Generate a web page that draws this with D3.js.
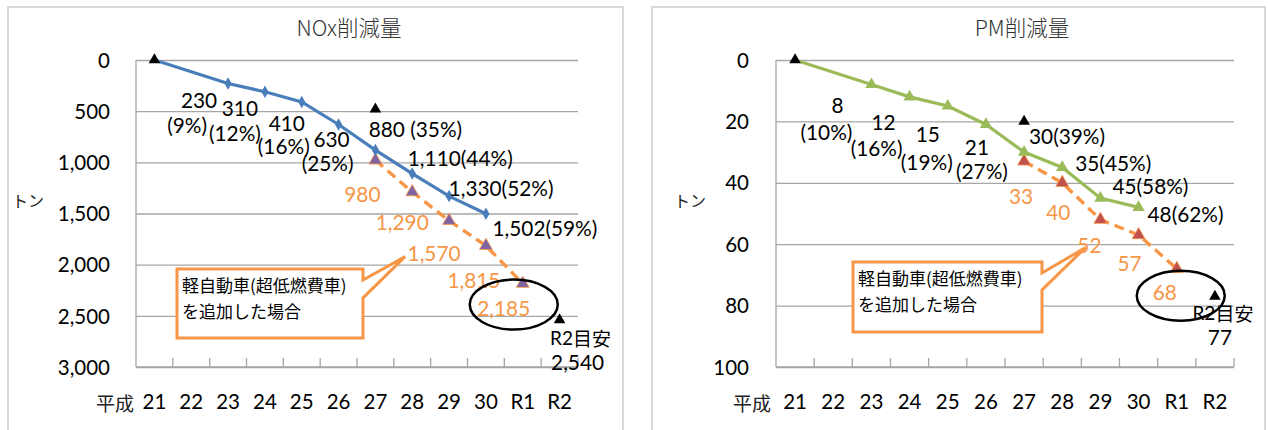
<!DOCTYPE html>
<html><head><meta charset="utf-8">
<script src="https://cdn.jsdelivr.net/npm/d3@7/dist/d3.min.js"></script>
<style>
html,body{margin:0;padding:0;background:#fff;}
svg{display:block;}
</style></head>
<body><svg id="c" width="1268" height="430"></svg>
<script>
// ---------- DATA ----------
const categories = ["21","22","23","24","25","26","27","28","29","30","R1","R2"];
const noxActual  = [0,null,230,310,410,630,880,1110,1330,1502,null,null];
const noxPct     = [null,null,9,12,16,25,35,44,52,59,null,null];
const noxWithKei = [null,null,null,null,null,null,980,1290,1570,1815,2185,null];
const noxTarget  = [0,null,null,null,null,null,480,null,null,null,null,2540];
const noxTicks   = [0,500,1000,1500,2000,2500,3000];

const pmActual   = [0,null,8,12,15,21,30,35,45,48,null,null];
const pmPct      = [null,null,10,16,19,27,39,45,58,62,null,null];
const pmWithKei  = [null,null,null,null,null,null,33,40,52,57,68,null];
const pmTarget   = [0,null,null,null,null,null,20,null,null,null,null,77];
const pmTicks    = [0,20,40,60,80,100];

const titles = ["NOx削減量","PM削減量"];
const unitLabel = "トン";
const eraLabel = "平成";
const calloutLines = ["軽自動車(超低燃費車)","を追加した場合"];
const targetLabel = "R2目安";

// ---------- LAYOUT ----------
const svg = d3.select("#c");
const LAT = "Lato, 'Noto Sans', sans-serif";
const JP = "'Noto Sans CJK JP', sans-serif";
const LBL = 20.8;

const layouts = [
  {
    panel:[8,7,615,440], plot:[136,578], yTop:60, yBot:367,
    title:{x:349,y:26}, unit:{x:28,y:200}, era:{x:115},
    tickPad:26, lineColor:"#4a7ebb", marker:d3.symbolDiamond, markerSize:45,
    keiFill:"#8064a2",
    actOff:[null,null,[[-29,16],[-41,41]],[[-25,16],[-30,41]],[[-15,21],[-18,44]],[[-7,14],[-11,38]],
            [[40,-22]],[[48,-16]],[[52,-9]],[[59,14]],null,null],
    sep:[null,null,null,null,null,null," ","","","",null,null],
    keiOff:[null,null,null,null,null,null,[-13,33],[-10,29],[-15,32],[-12,34],[-19,24],null],
    tgtOff:[[21,17],[18,42]],
    box:[177,269,363,338], wedge:[280,298], tipIdx:8, tipOff:[-44,36],
    ell:{idx:10, dx:-9, dy:21, rx:44, ry:25}
  },
  {
    panel:[652,7,613,440], plot:[776,1234], yTop:60, yBot:367,
    title:{x:1022,y:26}, unit:{x:690,y:200}, era:{x:752},
    tickPad:27, lineColor:"#9bbb59", marker:d3.symbolTriangle, markerSize:66,
    keiFill:"#c0504d",
    actOff:[null,null,[[-34,20],[-45,47]],[[-26,25],[-33,51]],[[-20,27],[-21,55]],[[-9,22],[-4,46]],
            [[43,-17]],[[51,-5]],[[50,-13]],[[47,6]],null,null],
    sep:[null,null,null,null,null,null,"","","","",null,null],
    keiOff:[null,null,null,null,null,null,[-3,34],[-4,29],[-11,25],[-9,28],[-12,23],null],
    tgtOff:[[8,16],[5,40]],
    box:[853,262,1042,332], wedge:[273,290], tipIdx:8, tipOff:[-15,28],
    ell:{idx:10, dx:4, dy:27, rx:44, ry:25}
  }
];

const datasets = [
  {actual:noxActual,pct:noxPct,kei:noxWithKei,target:noxTarget,ticks:noxTicks},
  {actual:pmActual,pct:pmPct,kei:pmWithKei,target:pmTarget,ticks:pmTicks}
];

const fmt = d3.format(",");

datasets.forEach((ds,k)=>{
  const L = layouts[k];
  const g = svg.append("g");
  g.append("rect").attr("x",L.panel[0]).attr("y",L.panel[1]).attr("width",L.panel[2]).attr("height",L.panel[3])
    .attr("fill","#fff").attr("stroke","#d9d9d9").attr("stroke-width",2);

  const x = d3.scaleBand().domain(categories).range(L.plot).padding(0);
  const y = d3.scaleLinear().domain([0,d3.max(ds.ticks)]).range([L.yTop,L.yBot]);
  const cx = i => x(categories[i]) + x.bandwidth()/2;

  const ya = g.append("g").attr("transform",`translate(${L.plot[0]},0)`)
    .call(d3.axisLeft(y).tickValues(ds.ticks).tickFormat(fmt).tickSize(-(L.plot[1]-L.plot[0])).tickPadding(L.tickPad));
  ya.select(".domain").remove();
  ya.selectAll(".tick line").attr("stroke","#a6a6a6").attr("stroke-width",1.3);
  ya.selectAll(".tick text").attr("font-family",LAT).attr("font-size",20.5).attr("fill","#000").attr("dy","0.35em");
  g.append("line").attr("x1",L.plot[0]).attr("x2",L.plot[0]).attr("y1",L.yTop).attr("y2",L.yBot)
    .attr("stroke","#a6a6a6").attr("stroke-width",1.3);
  g.append("line").attr("x1",L.plot[0]).attr("x2",L.plot[1]).attr("y1",L.yBot).attr("y2",L.yBot)
    .attr("stroke","#a6a6a6").attr("stroke-width",1.5);
  const bounds = categories.map(c=>x(c)).concat([L.plot[1]]).slice(1);
  g.selectAll(".bt").data(bounds).enter().append("line")
    .attr("x1",d=>d).attr("x2",d=>d).attr("y1",L.yBot-9).attr("y2",L.yBot)
    .attr("stroke","#a6a6a6").attr("stroke-width",1.3);
  const xa = g.append("g").attr("transform",`translate(0,${L.yBot})`)
    .call(d3.axisBottom(x).tickSize(0).tickPadding(27));
  xa.select(".domain").remove();
  xa.selectAll(".tick text").attr("font-family",LAT).attr("font-size",20.5).attr("fill","#000");
  g.append("text").attr("x",L.era.x).attr("y",L.yBot+35).attr("text-anchor","middle")
    .attr("dominant-baseline","central").attr("font-family",JP).attr("font-size",19).attr("fill","#222").text(eraLabel);

  g.append("text").attr("x",L.title.x).attr("y",L.title.y).attr("text-anchor","middle").attr("dominant-baseline","central")
    .attr("font-family",JP).attr("font-size",21.5).attr("fill","#333").attr("font-weight",300).text(titles[k]);
  g.append("text").attr("x",L.unit.x).attr("y",L.unit.y).attr("text-anchor","middle").attr("dominant-baseline","central")
    .attr("font-family",JP).attr("font-size",16).attr("fill","#222").text(unitLabel);

  const keiPts = ds.kei.map((v,i)=>({v,i})).filter(d=>d.v!=null);
  const line = d3.line().x(d=>cx(d.i)).y(d=>y(d.v));
  g.append("path").attr("d",line(keiPts)).attr("fill","none").attr("stroke","#f79646")
    .attr("stroke-width",3.4).attr("stroke-dasharray","10,6");
  g.selectAll(".km").data(keiPts).enter().append("path")
    .attr("d",d3.symbol(d3.symbolTriangle,72)())
    .attr("transform",d=>`translate(${cx(d.i)},${y(d.v)})`)
    .attr("fill",L.keiFill).attr("stroke","#f79646").attr("stroke-width",0.8);

  const actPts = ds.actual.map((v,i)=>({v,i})).filter(d=>d.v!=null);
  g.append("path").attr("d",line(actPts)).attr("fill","none").attr("stroke",L.lineColor).attr("stroke-width",3.2);
  g.selectAll(".am").data(actPts.filter(d=>d.i>0)).enter().append("path")
    .attr("d",d3.symbol(L.marker,L.markerSize)())
    .attr("transform",d=>`translate(${cx(d.i)},${y(d.v)})`)
    .attr("fill",L.lineColor);

  const tgtPts = ds.target.map((v,i)=>({v,i})).filter(d=>d.v!=null);
  g.selectAll(".tm").data(tgtPts).enter().append("path")
    .attr("d",d3.symbol(d3.symbolTriangle,58)())
    .attr("transform",d=>`translate(${cx(d.i)},${y(d.v)})`)
    .attr("fill","#000");

  ds.actual.forEach((v,i)=>{
    const off = L.actOff[i]; if(!off || v==null) return;
    let lines;
    if(off.length===2) lines=[fmt(v),`(${ds.pct[i]}%)`];
    else lines=[`${fmt(v)}${L.sep[i]}(${ds.pct[i]}%)`];
    lines.forEach((t,j)=>{
      g.append("text").attr("x",cx(i)+off[j][0]).attr("y",y(v)+off[j][1])
        .attr("text-anchor","middle").attr("dominant-baseline","central")
        .attr("font-family",LAT).attr("font-size",LBL).attr("fill","#000").text(t);
    });
  });
  ds.kei.forEach((v,i)=>{
    const off=L.keiOff[i]; if(!off||v==null) return;
    g.append("text").attr("x",cx(i)+off[0]).attr("y",y(v)+off[1])
      .attr("text-anchor","middle").attr("dominant-baseline","central")
      .attr("font-family",LAT).attr("font-size",LBL).attr("fill","#f79646").text(fmt(v));
  });
  const ti = ds.target.length-1, tv = ds.target[ti];
  g.append("text").attr("x",cx(ti)+L.tgtOff[0][0]).attr("y",y(tv)+L.tgtOff[0][1])
    .attr("text-anchor","middle").attr("dominant-baseline","central").attr("font-size",19)
    .attr("fill","#000").attr("font-family",JP)
    .call(t=>{t.append("tspan").attr("font-family",LAT).attr("font-size",19).text(targetLabel.slice(0,2));
              t.append("tspan").text(targetLabel.slice(2));});
  g.append("text").attr("x",cx(ti)+L.tgtOff[1][0]).attr("y",y(tv)+L.tgtOff[1][1])
    .attr("text-anchor","middle").attr("dominant-baseline","central")
    .attr("font-family",LAT).attr("font-size",LBL).attr("fill","#000").text(fmt(tv));

  const b=L.box;
  const tipX = cx(L.tipIdx)+L.tipOff[0], tipY = y(ds.kei[L.tipIdx])+L.tipOff[1];
  g.append("path").attr("d",`M${b[0]},${b[1]}H${b[2]}V${L.wedge[0]}L${tipX},${tipY}L${b[2]},${L.wedge[1]}V${b[3]}H${b[0]}Z`)
    .attr("fill","#fff").attr("stroke","#f79646").attr("stroke-width",3).attr("stroke-linejoin","miter");
  calloutLines.forEach((t,j)=>{
    g.append("text").attr("x",b[0]+5).attr("y",b[1]+15+j*26).attr("dominant-baseline","central")
      .attr("font-family",JP).attr("font-size",17).attr("fill","#000").text(t);
  });

  const e=L.ell;
  g.append("ellipse").attr("cx",cx(e.idx)+e.dx).attr("cy",y(ds.kei[e.idx])+e.dy).attr("rx",e.rx).attr("ry",e.ry)
    .attr("fill","none").attr("stroke","#000").attr("stroke-width",2.5);
});
</script></body></html>
